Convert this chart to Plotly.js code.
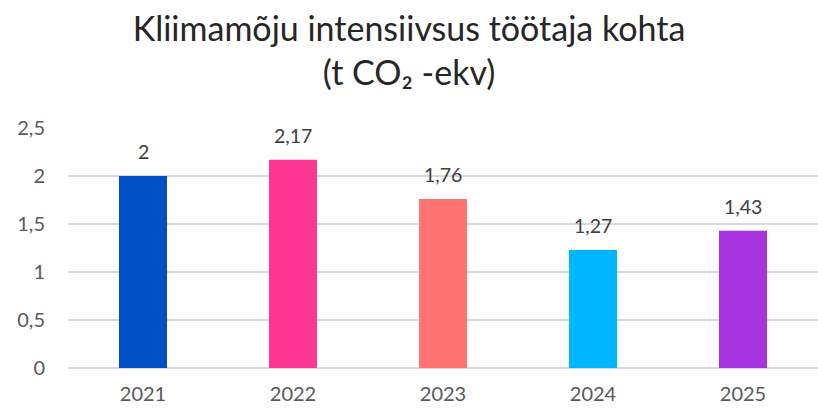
<!DOCTYPE html>
<html>
<head>
<meta charset="utf-8">
<script src="https://cdn.plot.ly/plotly-3.0.1.min.js"></script>
<style>html,body{margin:0;padding:0;background:#fff}#chart{width:818px;height:409px}</style>
</head>
<body>
<div id="chart"></div>
<script>
const years = ['2021', '2022', '2023', '2024', '2025'];
const values = [2.0, 2.17, 1.76, 1.23, 1.43];
const labels = ['2', '2,17', '1,76', '1,27', '1,43'];
const colors = ['#0250C5', '#FF3794', '#FF7370', '#00B7FF', '#A633DD'];
const yTicks = [0, 0.5, 1, 1.5, 2, 2.5];
const yTickText = ['0', '0,5', '1', '1,5', '2', '2,5'];

const fontFam = 'Lato, "Open Sans", sans-serif';

const trace = {
  type: 'bar',
  x: years,
  y: values,
  marker: { color: colors },
  hoverinfo: 'skip'
};

const annotations = years.map((yr, i) => ({
  x: i, y: values[i], text: labels[i],
  xref: 'x', yref: 'y', showarrow: false,
  yanchor: 'bottom', yshift: 11,
  font: { family: fontFam, size: 19.5, color: '#404040' }
}));

const layout = {
  width: 818, height: 409,
  margin: { l: 68, r: 0, t: 128, b: 41 },
  paper_bgcolor: '#fff', plot_bgcolor: '#fff',
  bargap: 0.68,
  showlegend: false,
  title: {
    text: 'Kliimamõju intensiivsus töötaja kohta<br>(t CO₂ -ekv)',
    x: 0.5, xanchor: 'center', yref: 'container', y: 0.9, yanchor: 'top',
    font: { family: fontFam, size: 34, color: '#262626' }
  },
  xaxis: {
    type: 'category', range: [-0.5, 4.5], showgrid: false, zeroline: false, showline: false,
    ticks: '', ticklabelstandoff: 12,
    tickfont: { family: fontFam, size: 20, color: '#595959' }
  },
  yaxis: {
    range: [0, 2.5], tickvals: yTicks, ticktext: yTickText,
    showgrid: true, gridcolor: '#D9D9D9', gridwidth: 1.5,
    zeroline: true, zerolinecolor: '#D9D9D9', zerolinewidth: 1.5,
    showline: false, ticks: '', ticklabelstandoff: 22,
    tickfont: { family: fontFam, size: 20, color: '#595959' }
  },
  annotations: annotations
};

Plotly.newPlot('chart', [trace], layout, { displayModeBar: false, staticPlot: true });
</script>
</body>
</html>
